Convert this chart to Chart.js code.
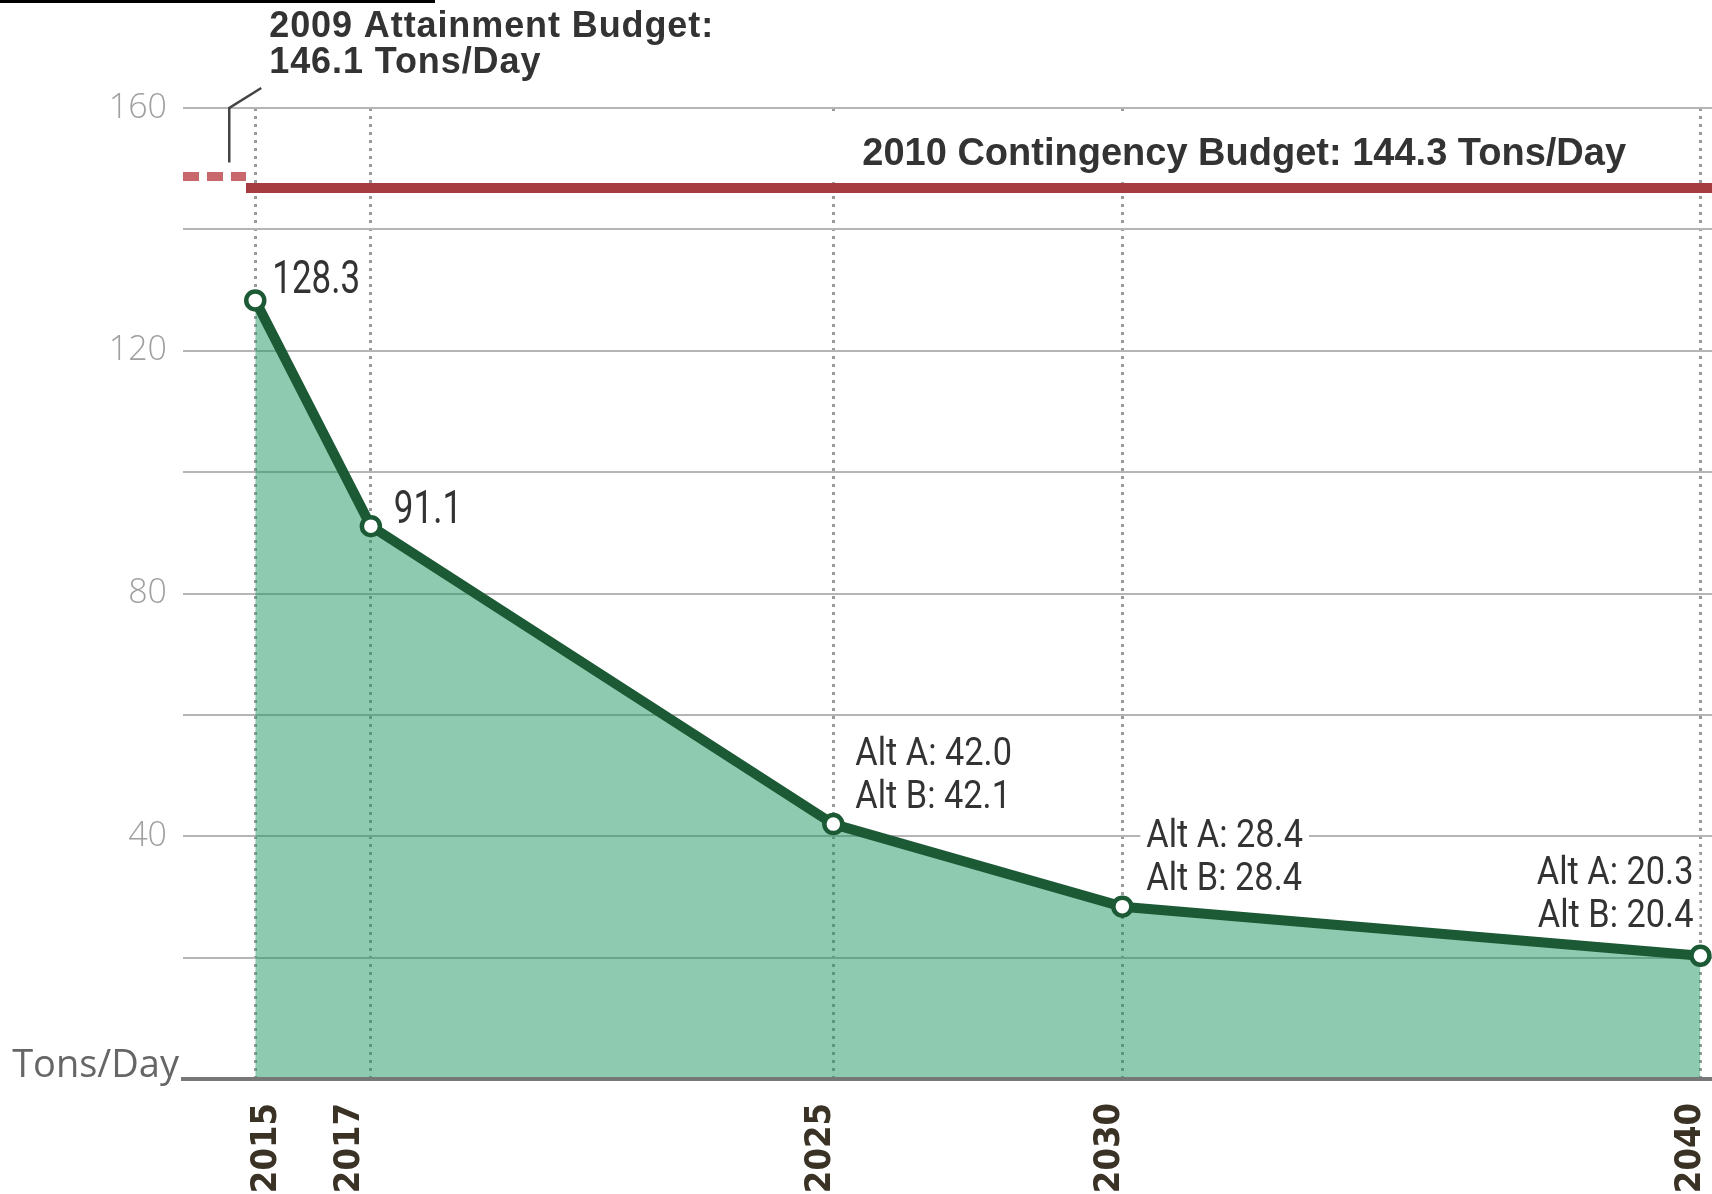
<!DOCTYPE html>
<html>
<head>
<meta charset="utf-8">
<title>Tons/Day</title>
<script src="https://cdn.jsdelivr.net/npm/chart.js@4.4.1/dist/chart.umd.min.js"></script>
<style>
  html, body { margin: 0; padding: 0; background: #fff; }
  canvas { display: block; }
</style>
</head>
<body>
<canvas id="tons-per-day-chart" width="1712" height="1194"></canvas>
<script>
// Years on the x axis and the emissions line
const years = [2015, 2017, 2025, 2030, 2040];
const tonsPerDay = [128.3, 91.1, 42.0, 28.4, 20.3];

// Text next to each point
const pointLabels = [
  ['128.3'],
  ['91.1'],
  ['Alt A: 42.0', 'Alt B: 42.1'],
  ['Alt A: 28.4', 'Alt B: 28.4'],
  ['Alt A: 20.3', 'Alt B: 20.4'],
];

// Y axis: a grid line every 20, a label every 40
const yTicks = [0, 20, 40, 60, 80, 100, 120, 140, 160];
const yLabelled = [40, 80, 120, 160];

// Budget lines (levels as drawn in the picture)
const contingencyText = '2010 Contingency Budget: 144.3 Tons/Day';
const contingencyLevel = 146.8;
const attainmentText = ['2009 Attainment Budget:', '146.1 Tons/Day'];
const attainmentLevel = 148.7;

const xMin = 2013.75;
const xMax = 2040.2;
const budgetSplit = 2014.84;

// where each point label sits relative to its point
const labelPlacement = [
  { dx: 17, dy: -7, align: 'left', big: true },
  { dx: 23, dy: -3, align: 'left', big: true },
  { dx: 22, dy: -59, align: 'left' },
  { dx: 24, dy: -60, align: 'left' },
  { dx: -7, dy: -72, align: 'right' },
];

// small sideways nudges of the rotated year labels
const yearLabelNudge = [11, -21, -13, -13, -10];

const TEXT = '#333333';
const GREEN = '#1c5a36';

// text drawn squeezed horizontally, like a condensed face
function drawSqueezed(ctx, text, x, y, squeeze, align) {
  ctx.save();
  ctx.translate(x, y);
  ctx.scale(squeeze, 1);
  ctx.textAlign = align;
  ctx.fillText(text, 0, 0);
  ctx.restore();
}

const annotationPlugin = {
  id: 'annotations',
  beforeDatasetsDraw(chart) {
    const { ctx, scales: { x, y } } = chart;
    // white box behind the contingency label hides the dotted grid there
    ctx.save();
    ctx.font = 'bold 38px "Liberation Sans", Arial, sans-serif';
    const left = x.getPixelForValue(2025) + 29;
    const w = ctx.measureText(contingencyText).width;
    const lineY = y.getPixelForValue(contingencyLevel);
    const top = y.getPixelForValue(160);
    ctx.fillStyle = '#fff';
    ctx.fillRect(left - 50, top + 4, w + 100, lineY - top - 10);
    ctx.restore();
  },
  afterDatasetsDraw(chart) {
    const { ctx, chartArea, scales: { x, y } } = chart;
    ctx.save();
    ctx.textBaseline = 'alphabetic';

    // point labels
    years.forEach((yr, i) => {
      const p = labelPlacement[i];
      const px = x.getPixelForValue(yr) + p.dx;
      const py = y.getPixelForValue(tonsPerDay[i]) + p.dy;
      const squeeze = p.big ? 0.76 : 0.88;
      ctx.font = p.big ? '46px Roboto, sans-serif' : '39px Roboto, sans-serif';
      pointLabels[i].forEach((line, j) => {
        const ly = py + j * 43;
        const w = ctx.measureText(line).width * squeeze;
        const bx = p.align === 'right' ? px - w : px;
        ctx.fillStyle = '#fff';
        ctx.fillRect(bx - 6, ly - 31, w + 12, 34);
        ctx.fillStyle = TEXT;
        drawSqueezed(ctx, line, px, ly, squeeze, p.align);
      });
    });

    // rotated year labels under the axis
    ctx.font = 'bold 36px "DejaVu Sans Condensed", "DejaVu Sans", sans-serif';
    ctx.fillStyle = '#3b3226';
    ctx.textAlign = 'right';
    ctx.textBaseline = 'middle';
    years.forEach((yr, i) => {
      ctx.save();
      ctx.translate(x.getPixelForValue(yr) + yearLabelNudge[i], chartArea.bottom + 24);
      ctx.rotate(-Math.PI / 2);
      ctx.fillText(String(yr), 0, 0);
      ctx.restore();
    });
    ctx.textBaseline = 'alphabetic';

    // contingency budget label
    ctx.font = 'bold 38px "Liberation Sans", Arial, sans-serif';
    ctx.textAlign = 'left';
    ctx.fillStyle = TEXT;
    ctx.fillText(contingencyText, x.getPixelForValue(2025) + 29, y.getPixelForValue(contingencyLevel) - 23);

    // attainment budget label with its leader line
    ctx.font = 'bold 36px "Liberation Sans", Arial, sans-serif';
    ctx.letterSpacing = '0.9px';
    const ax = x.getPixelForValue(2015) + 14;
    ctx.fillText(attainmentText[0], ax, 37);
    ctx.fillText(attainmentText[1], ax, 73);
    ctx.letterSpacing = '0px';

    const lx = x.getPixelForValue(2015) - 26;
    const top = y.getPixelForValue(160);
    ctx.strokeStyle = '#444';
    ctx.lineWidth = 2.5;
    ctx.beginPath();
    ctx.moveTo(lx, y.getPixelForValue(attainmentLevel) - 14);
    ctx.lineTo(lx, top);
    ctx.lineTo(lx + 32, top - 20);
    ctx.stroke();
    ctx.restore();
  },
  afterDraw(chart) {
    const { ctx, chartArea } = chart;
    ctx.save();
    // rule along the top left
    ctx.fillStyle = '#000';
    ctx.fillRect(0, 0, 435, 3);
    // unit label
    ctx.font = '38px "Open Sans", sans-serif';
    ctx.fillStyle = '#666';
    ctx.textAlign = 'right';
    ctx.textBaseline = 'alphabetic';
    ctx.fillText('Tons/Day', chartArea.left - 4, chartArea.bottom - 2);
    ctx.restore();
  },
};

const ctx = document.getElementById('tons-per-day-chart').getContext('2d');
const chart = new Chart(ctx, {
  type: 'line',
  data: {
    datasets: [
      {
        label: 'Tons/Day',
        data: years.map((yr, i) => ({ x: yr, y: tonsPerDay[i] })),
        borderColor: GREEN,
        borderWidth: 10,
        borderJoinStyle: 'round',
        backgroundColor: 'rgba(28, 150, 95, 0.5)',
        fill: 'origin',
        tension: 0,
        pointRadius: 9,
        pointBorderWidth: 4.5,
        pointBackgroundColor: '#fff',
        pointBorderColor: GREEN,
        clip: false,
      },
      {
        label: 'Contingency Budget',
        data: [{ x: budgetSplit, y: contingencyLevel }, { x: xMax, y: contingencyLevel }],
        borderColor: '#a63b40',
        borderWidth: 10,
        pointRadius: 0,
        fill: false,
      },
      {
        label: 'Attainment Budget',
        data: [{ x: xMin, y: attainmentLevel }, { x: budgetSplit, y: attainmentLevel }],
        borderColor: '#c9686c',
        borderWidth: 9,
        borderDash: [16, 8],
        pointRadius: 0,
        fill: false,
      },
    ],
  },
  options: {
    responsive: false,
    animation: false,
    layout: {
      autoPadding: false,
      padding: { top: 108, left: 0, right: 0, bottom: 0 },
    },
    plugins: {
      legend: { display: false },
      tooltip: { enabled: false },
    },
    scales: {
      x: {
        type: 'linear',
        min: xMin,
        max: xMax,
        afterBuildTicks: (scale) => {
          scale.ticks = years.map((v) => ({ value: v }));
        },
        afterFit: (scale) => {
          scale.height = 115;
          scale.paddingLeft = 0;
          scale.paddingRight = 0;
        },
        grid: {
          color: '#9a9a9a',
          lineWidth: 3,
          drawTicks: false,
        },
        border: {
          display: true,
          color: '#777',
          width: 4,
          dash: [3, 5],
          z: 1,
        },
        // year labels are drawn by the plugin so each can be nudged
        ticks: { display: false, autoSkip: false },
      },
      y: {
        min: 0,
        max: 160,
        afterBuildTicks: (scale) => {
          scale.ticks = yTicks.map((v) => ({ value: v }));
        },
        afterFit: (scale) => {
          scale.width = 183;
        },
        grid: {
          color: '#b5b5b5',
          lineWidth: 2,
          drawTicks: false,
        },
        border: { display: false },
        ticks: {
          padding: 16,
          color: '#a0a0a0',
          font: { family: '"Open Sans", sans-serif', size: 34, weight: '300' },
          callback: (value) => (yLabelled.includes(value) ? String(value) : ''),
        },
      },
    },
  },
  plugins: [annotationPlugin],
});
</script>
</body>
</html>
